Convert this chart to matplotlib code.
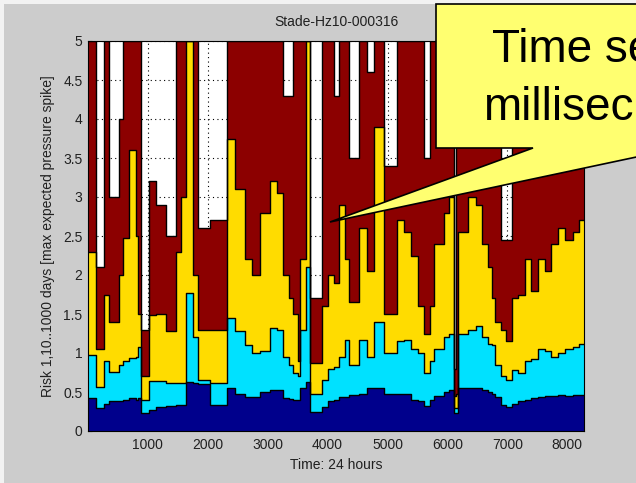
import matplotlib
matplotlib.use("Agg")
import matplotlib.pyplot as plt
import numpy as np
from matplotlib.patches import Polygon, Rectangle
from matplotlib.transforms import Affine2D

# ---- data ----
hours = [0, 130, 270, 350, 520, 580, 680, 800, 840, 890, 1020, 1140, 1300, 1470,
         1550, 1640, 1750, 1840, 2040, 2320, 2460, 2620, 2740, 2870, 3040, 3160,
         3260, 3360, 3420, 3510, 3540, 3640, 3710, 3910, 4010, 4110, 4190, 4290,
         4360, 4530, 4660, 4780, 4940, 5150, 5280, 5400, 5510, 5610, 5710, 5780,
         5950, 6030, 6110, 6150, 6180, 6350, 6470, 6570, 6680, 6750, 6800, 6900,
         6980, 7070, 7180, 7300, 7400, 7520, 7630, 7730, 7850, 7970, 8090, 8190, 8280]

# cumulative top of each stacked layer (risk for 1, 10, 100, 1000 days)
risk_1 = [0.42, 0.30, 0.34, 0.38, 0.38, 0.40, 0.42, 0.40, 0.42, 0.23, 0.27, 0.31, 0.32, 0.33,
          0.33, 0.63, 0.61, 0.60, 0.33, 0.55, 0.47, 0.44, 0.44, 0.50, 0.53, 0.53,
          0.42, 0.41, 0.40, 0.40, 0.55, 0.63, 0.25, 0.31, 0.38, 0.40, 0.44, 0.44,
          0.46, 0.47, 0.55, 0.55, 0.47, 0.48, 0.48, 0.40, 0.38, 0.32, 0.40, 0.45,
          0.50, 0.52, 0.23, 0.23, 0.55, 0.55, 0.55, 0.53, 0.50, 0.48, 0.44, 0.33,
          0.31, 0.35, 0.38, 0.40, 0.42, 0.44, 0.45, 0.45, 0.46, 0.45, 0.46, 0.46, 0.46]
risk_10 = [0.98, 0.57, 0.90, 0.76, 0.85, 0.90, 0.94, 0.95, 1.08, 0.40, 0.64, 0.64, 0.62, 0.62,
           0.62, 1.77, 1.20, 0.65, 0.62, 1.45, 1.28, 1.10, 1.00, 1.02, 1.32, 1.30,
           0.95, 0.85, 0.75, 0.70, 1.30, 2.10, 0.48, 0.65, 0.80, 0.82, 0.95, 1.17,
           0.85, 1.17, 0.95, 1.40, 1.00, 1.15, 1.17, 1.05, 1.00, 0.75, 0.90, 1.05,
           1.20, 1.25, 0.30, 0.30, 1.25, 1.30, 1.34, 1.20, 1.12, 1.10, 0.85, 0.70,
           0.65, 0.78, 0.75, 0.90, 0.92, 1.05, 1.02, 0.95, 1.00, 1.05, 1.08, 1.12, 1.12]
risk_100 = [2.30, 1.05, 1.75, 1.40, 2.00, 2.47, 3.60, 2.50, 1.50, 0.70, 1.49, 1.50, 1.28, 2.30,
            3.00, 5.00, 2.00, 1.30, 1.30, 3.75, 3.10, 2.20, 2.00, 2.80, 3.20, 3.05,
            2.00, 1.70, 1.50, 0.90, 2.20, 5.00, 0.87, 1.60, 2.00, 1.90, 2.90, 2.20,
            1.65, 2.60, 2.05, 3.90, 1.50, 2.70, 2.55, 2.25, 1.60, 1.25, 1.60, 2.40,
            2.80, 3.00, 0.45, 0.48, 2.55, 3.00, 2.90, 2.40, 2.10, 1.70, 1.40, 1.30,
            1.15, 1.70, 1.75, 2.20, 1.80, 2.20, 2.05, 2.40, 2.60, 2.45, 2.55, 2.70, 2.70]
risk_1000 = [5.0, 2.1, 5.0, 3.0, 4.0, 5.0, 5.0, 5.0, 5.0, 1.3, 3.2, 2.9, 2.5, 5.0,
             5.0, 5.0, 5.0, 2.6, 2.7, 5.0, 5.0, 5.0, 5.0, 5.0, 5.0, 5.0,
             4.3, 4.3, 5.0, 5.0, 5.0, 5.0, 1.7, 5.0, 5.0, 4.3, 5.0, 5.0,
             3.5, 5.0, 4.6, 5.0, 3.4, 5.0, 5.0, 5.0, 5.0, 3.5, 5.0, 5.0,
             5.0, 5.0, 0.8, 5.0, 5.0, 5.0, 5.0, 5.0, 5.0, 5.0, 5.0, 2.45,
             2.45, 5.0, 5.0, 5.0, 5.0, 5.0, 5.0, 5.0, 5.0, 5.0, 5.0, 5.0, 5.0]

layer_colors = ["#00008c", "#00e1ff", "#ffdc00", "#8c0000"]
x_ticks = [1000, 2000, 3000, 4000, 5000, 6000, 7000, 8000]
y_ticks = [0, 0.5, 1, 1.5, 2, 2.5, 3, 3.5, 4, 4.5, 5]
y_tick_labels = ["0", "0.5", "1", "1.5", "2", "2.5", "3", "3.5", "4", "4.5", "5"]
title = "Stade-Hz10-000316"
x_label = "Time: 24 hours"
y_label = "Risk 1,10..1000 days [max expected pressure spike]"
callout_lines = ["Time se", "millisec"]

# ---- figure ----
W, H = 636, 483
plt.rcParams["font.family"] = ["Liberation Sans", "DejaVu Sans"]
fig = plt.figure(figsize=(W / 100, H / 100), dpi=100, facecolor="#cccccc")
px = Affine2D().scale(1 / W, -1 / H).translate(0, 1) + fig.transFigure

fig.add_artist(Rectangle((0, 0), W, 4, transform=px, facecolor="#f2f2f2",
                         edgecolor="none", zorder=0))
fig.add_artist(Rectangle((0, 0), 4, H, transform=px, facecolor="#f2f2f2",
                         edgecolor="none", zorder=0))

ax = fig.add_axes([88 / W, 1 - 431 / H, 496 / W, 390 / H])
ax.set_facecolor("white")

x = np.array(hours, dtype=float)
layers = [np.zeros_like(x)] + [np.array(v, dtype=float) for v in (risk_1, risk_10, risk_100, risk_1000)]
for i in range(4):
    ax.fill_between(x, layers[i], layers[i + 1], step="post",
                    facecolor=layer_colors[i], edgecolor="none", zorder=2)
for i in range(1, 5):
    ax.plot(x, layers[i], drawstyle="steps-post", color="black", lw=1.0, zorder=3)

ax.set_xlim(0, 8280)
ax.set_ylim(0, 5)
ax.set_xticks(x_ticks)
ax.set_xticklabels([str(t) for t in x_ticks])
ax.set_yticks(y_ticks)
ax.set_yticklabels(y_tick_labels)
ax.tick_params(direction="in", length=3, width=0.8, labelsize=10,
               labelcolor="#202020", color="black")
ax.tick_params(axis="y", pad=4)
ax.tick_params(axis="x", pad=5)
ax.set_axisbelow(True)
ax.grid(True, color="black", linestyle=(0, (1, 3)), linewidth=0.8)
for s in ax.spines.values():
    s.set_linewidth(0.8)
    s.set_color("black")
    s.set_zorder(4)

ax.text(0.5, (431 - 22) / 390, title, transform=ax.transAxes, ha="center",
        va="center", fontsize=10, color="#202020")
ax.set_xlabel(x_label, fontsize=10, color="#202020")
ax.xaxis.set_label_coords(0.5, (431 - 465) / 390)
ax.xaxis.label.set_va("center")
ax.set_ylabel(y_label, fontsize=10, color="#202020")
ax.yaxis.set_label_coords((48 - 88) / 496, 0.5)
ax.yaxis.label.set_va("center")

# ---- callout ----
callout = Polygon([(436, 4), (660, 4), (660, 152), (330, 222), (533, 148), (436, 148)],
                  closed=True, transform=px, facecolor="#ffff70",
                  edgecolor="black", linewidth=1.2, zorder=10)
fig.add_artist(callout)
fig.text(492 / W, 1 - 62 / H, callout_lines[0], ha="left", va="baseline",
         fontsize=33, color="black", zorder=11)
fig.text(483 / W, 1 - 120 / H, callout_lines[1], ha="left", va="baseline",
         fontsize=33, color="black", zorder=11)

fig.savefig("out.png", dpi=100, facecolor=fig.get_facecolor())
